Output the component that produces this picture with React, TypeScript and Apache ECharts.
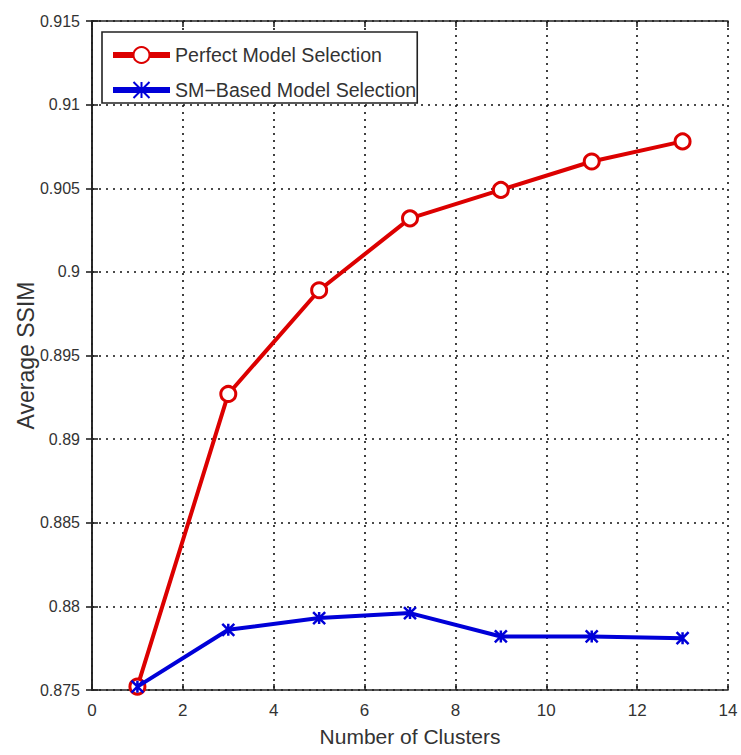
import React, { useEffect, useRef } from "react";
import * as echarts from "echarts";

const clusters = [1, 3, 5, 7, 9, 11, 13];
const perfectSSIM = [0.8752, 0.8927, 0.8989, 0.9032, 0.9049, 0.9066, 0.9078];
const smBasedSSIM = [0.8752, 0.8786, 0.8793, 0.8796, 0.8782, 0.8782, 0.8781];
const seriesNames = ["Perfect Model Selection", "SM\u2212Based Model Selection"];
const xTitle = "Number of Clusters";
const yTitle = "Average SSIM";

const FONT = "'Liberation Sans', Arial, sans-serif";
const RED = "#dc0000";
const BLUE = "#0000d8";

export default function App() {
  const ref = useRef<HTMLDivElement>(null);
  useEffect(() => {
    if (!ref.current) return;
    const chart = echarts.init(ref.current, undefined, { renderer: "svg" });
    const gridLine = { show: true, lineStyle: { color: "#111", type: [2, 5], width: 1.6 } };
    const frameLine = { show: true, lineStyle: { color: "#222", width: 1.6 } };
    const innerTick = { show: true, inside: true, length: 6, lineStyle: { color: "#222", width: 1.6 } };
    chart.setOption({
      animation: false,
      backgroundColor: "#fff",
      textStyle: { fontFamily: FONT },
      grid: { left: 92, right: 13, top: 21, bottom: 65 },
      legend: {
        left: 102,
        top: 32,
        orient: "vertical",
        padding: [13, 1, 3, 8],
        itemGap: 15,
        itemWidth: 57,
        itemHeight: 20,
        borderColor: "#222",
        borderWidth: 1.6,
        backgroundColor: "#fff",
        lineStyle: { width: 6 },
        textStyle: { fontSize: 19.6, color: "#333", fontFamily: FONT },
        data: seriesNames,
      },
      xAxis: [
        {
          type: "value",
          min: 0,
          max: 14,
          interval: 2,
          name: xTitle,
          nameLocation: "middle",
          nameGap: 36,
          nameTextStyle: { fontSize: 21, color: "#333", fontFamily: FONT },
          axisLine: frameLine,
          axisTick: innerTick,
          axisLabel: { fontSize: 17, color: "#333", margin: 12, fontFamily: FONT },
          splitLine: gridLine,
        },
        {
          type: "value",
          position: "top",
          min: 0,
          max: 14,
          interval: 2,
          axisLine: frameLine,
          axisTick: innerTick,
          axisLabel: { show: false },
          splitLine: { show: false },
        },
      ],
      yAxis: [
        {
          type: "value",
          min: 0.875,
          max: 0.915,
          interval: 0.005,
          name: yTitle,
          nameLocation: "middle",
          nameGap: 55,
          nameMoveOverlap: false,
          nameTextStyle: { fontSize: 23, color: "#333", fontFamily: FONT },
          axisLine: frameLine,
          axisTick: innerTick,
          axisLabel: {
            fontSize: 16,
            color: "#333",
            margin: 12,
            fontFamily: FONT,
            formatter: (v: number) => String(parseFloat(v.toFixed(3))),
          },
          splitLine: gridLine,
        },
        {
          type: "value",
          position: "right",
          min: 0.875,
          max: 0.915,
          interval: 0.005,
          axisLine: frameLine,
          axisTick: innerTick,
          axisLabel: { show: false },
          splitLine: { show: false },
        },
      ],
      series: [
        {
          name: seriesNames[0],
          type: "line",
          data: clusters.map((c, i) => [c, perfectSSIM[i]]),
          symbol: "circle",
          symbolSize: 15,
          showAllSymbol: true,
          lineStyle: { color: RED, width: 4 },
          itemStyle: { color: "#fff", borderColor: RED, borderWidth: 3 },
          z: 2,
        },
        {
          name: seriesNames[1],
          type: "line",
          data: clusters.map((c, i) => [c, smBasedSSIM[i]]),
          symbol: "path://M0,0L10,10M10,0L0,10M5,0L5,10",
          symbolSize: 12,
          showAllSymbol: true,
          lineStyle: { color: BLUE, width: 4 },
          itemStyle: { color: BLUE, borderColor: BLUE, borderWidth: 2.5 },
          z: 3,
        },
      ],
    });
    return () => chart.dispose();
  }, []);
  return <div ref={ref} style={{ width: 741, height: 755, position: "absolute", left: 0, top: 0 }} />;
}
